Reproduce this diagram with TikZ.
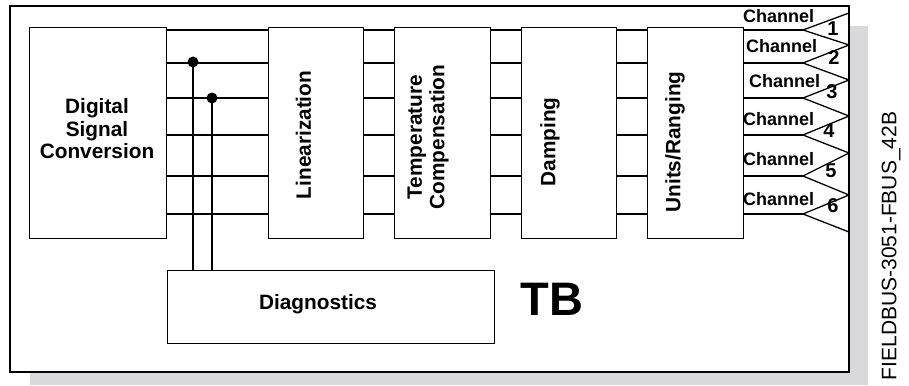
\documentclass[tikz,border=0pt]{standalone}
\usepackage{fontspec}
\setmainfont{Liberation Sans}
\definecolor{shadowgray}{RGB}{217,217,219}
\begin{document}
\begin{tikzpicture}[x=1pt,y=-1pt,
  blk/.style={draw, line width=1.3pt, fill=white, inner sep=0pt, anchor=north west},
  wire/.style={line width=1.3pt},
  lbl/.style={font=\fontsize{20.8}{22.5}\selectfont\bfseries, align=center, inner sep=0pt},
  rlbl/.style={lbl, rotate=90},
  chlbl/.style={font=\fontsize{18}{18}\selectfont\bfseries, inner sep=0pt, anchor=west},
  numlbl/.style={font=\fontsize{20}{20}\selectfont\bfseries, inner sep=0pt},
  dot/.style={circle, fill=black, inner sep=0pt, minimum size=11pt}]
\useasboundingbox (0,0) rectangle (909,385);
% shadow and frame
\fill[shadowgray] (30,26) rectangle (868,385);
\draw[line width=2.6pt, fill=white] (10,6) rectangle (849,372);
% blocks
\node[blk, minimum width=137pt, minimum height=211pt] (dsc) at (29,27) {};
\node[blk, minimum width=95pt, minimum height=211pt] (lin) at (268,27) {};
\node[blk, minimum width=96pt, minimum height=211pt] (tc) at (394,27) {};
\node[blk, minimum width=95pt, minimum height=211pt] (dmp) at (521,27) {};
\node[blk, minimum width=96pt, minimum height=211pt] (ur) at (647,27) {};
\node[blk, minimum width=327pt, minimum height=73pt] (diag) at (167,270) {};
% labels
\node[lbl] (tdsc) at (97,129) {Digital\\Signal\\Conversion};
\node[rlbl] (tlin) at (303.5,135) {Linearization};
\node[rlbl] (ttc) at (428,137) {Temperature\\Compensation};
\node[rlbl] (tdmp) at (550,142) {Damping};
\node[rlbl] (tur) at (675,142) {Units/Ranging};
\node[lbl] (tdiag) at (318,304) {Diagnostics};
\node[font=\fontsize{47}{47}\selectfont\bfseries, inner sep=0pt] (tb) at (552,299) {TB};
\node[rotate=90, font=\fontsize{21}{21}\selectfont, inner sep=0pt] (fig) at (891,246) {FIELDBUS-3051-FBUS\_42B};
% channel apexes and right vertices
\foreach \i/\y in {1/30,2/63,3/98,4/135,5/176,6/214} {
  \coordinate (a\i) at (803,\y);
}
\foreach \i/\y in {0/13,1/45,2/80,3/116,4/153,5/195,6/232} {
  \coordinate (v\i) at (849,\y);
}
% wires
\foreach \i in {1,...,6} {
  \draw[wire] (dsc.east |- a\i) -- (lin.west |- a\i);
  \draw[wire] (lin.east |- a\i) -- (tc.west |- a\i);
  \draw[wire] (tc.east |- a\i) -- (dmp.west |- a\i);
  \draw[wire] (dmp.east |- a\i) -- (ur.west |- a\i);
  \draw[wire] (ur.east |- a\i) -- (a\i);
}
% triangles
\foreach \i [evaluate=\i as \j using int(\i-1)] in {1,...,6} {
  \draw[wire, line join=miter] (v\j) -- (a\i) -- (v\i);
}
% diagnostics taps
\node[dot] (j1) at (193,62) {};
\node[dot] (j2) at (212,98) {};
\draw[wire] (j1.center) -- (j1.center |- diag.north);
\draw[wire] (j2.center) -- (j2.center |- diag.north);
% channel labels
\node[chlbl] (c1) at (743,16) {Channel};
\node[chlbl] (c2) at (746,46) {Channel};
\node[chlbl] (c3) at (749,81) {Channel};
\node[chlbl] (c4) at (743,119) {Channel};
\node[chlbl] (c5) at (743,159) {Channel};
\node[chlbl] (c6) at (743,199) {Channel};
\node[numlbl] (n1) at (833,29) {1};
\node[numlbl] (n2) at (834,58) {2};
\node[numlbl] (n3) at (832,92) {3};
\node[numlbl] (n4) at (829,131) {4};
\node[numlbl] (n5) at (831,171) {5};
\node[numlbl] (n6) at (833,206) {6};
\end{tikzpicture}
\end{document}
